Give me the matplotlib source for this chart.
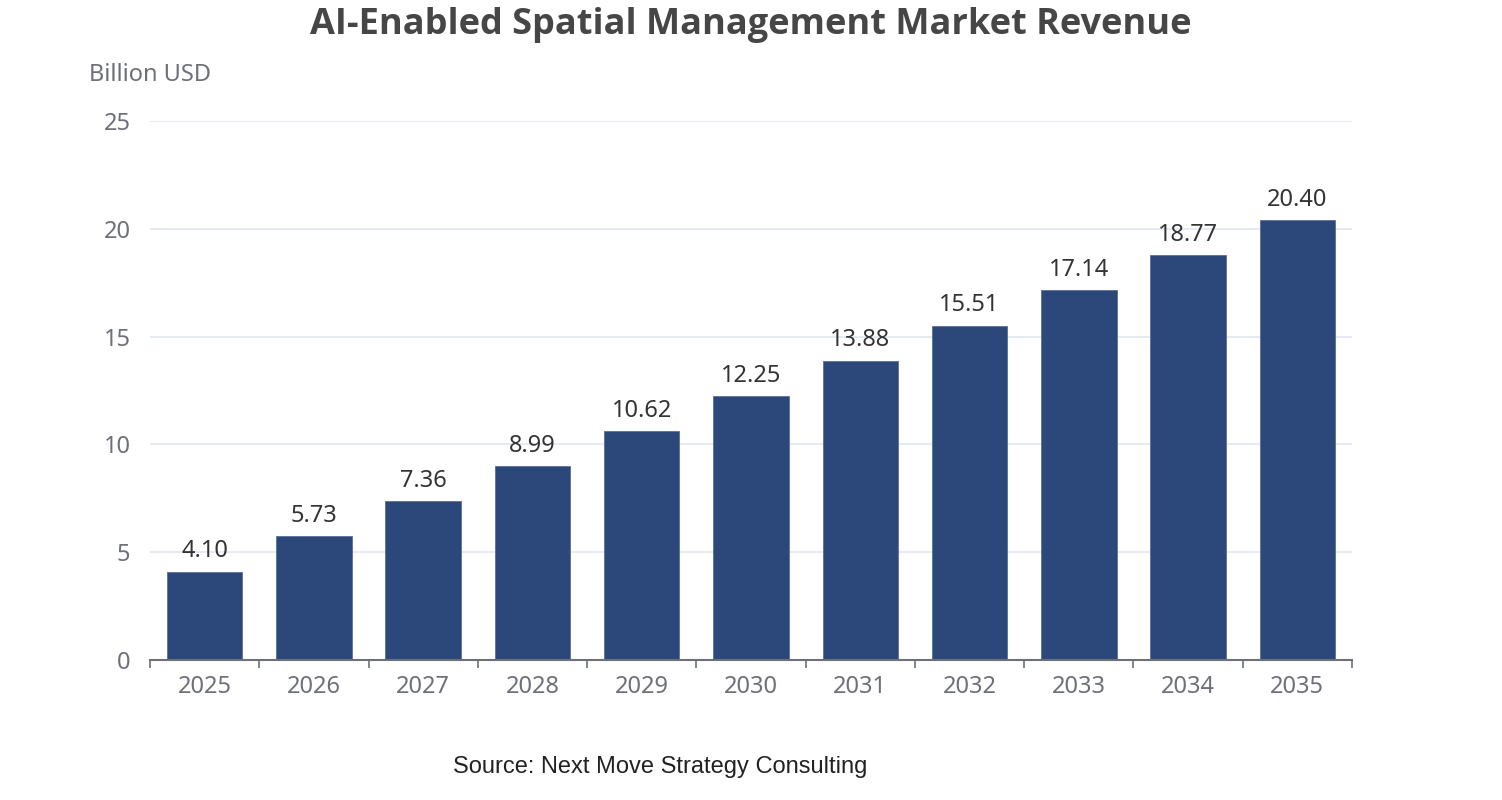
import matplotlib
matplotlib.use("Agg")
import matplotlib.pyplot as plt
import numpy as np

years = ["2025", "2026", "2027", "2028", "2029", "2030", "2031", "2032", "2033", "2034", "2035"]
revenue = [4.10, 5.73, 7.36, 8.99, 10.62, 12.25, 13.88, 15.51, 17.14, 18.77, 20.40]
y_ticks = [0, 5, 10, 15, 20, 25]

plt.rcParams['font.family'] = ['Noto Sans', 'DejaVu Sans']

W, H = 1502, 800
fig = plt.figure(figsize=(W / 100, H / 100), dpi=100)
ax = fig.add_axes([150 / W, 1 - 660 / H, (1352 - 150) / W, (660 - 121) / H])

x = np.arange(len(years))
bars = ax.bar(x, revenue, width=0.69, color='#2C4779', edgecolor='#5A6F98', linewidth=0.6, zorder=3)

for xi, v in zip(x, revenue):
    ax.annotate(f"{v:.2f}", (xi, v), xytext=(0, 6), textcoords='offset points',
                ha='center', va='bottom', fontsize=17, color='#333333')

ax.set_xlim(-0.5, len(years) - 0.5)
ax.set_ylim(0, 25)
ax.set_yticks(y_ticks)
ax.set_yticklabels([str(t) for t in y_ticks], fontsize=17, color='#6E7079')
ax.tick_params(axis='y', length=0, pad=14)
ax.yaxis.grid(True, color='#E0E6F1', linewidth=1.2, zorder=0)

ax.set_xticks(x)
ax.set_xticklabels(years, fontsize=17, color='#6E7079')
ax.tick_params(axis='x', which='major', length=0, pad=11)
ax.set_xticks(np.arange(-0.5, len(years)), minor=True)
ax.tick_params(axis='x', which='minor', length=6, width=1.2, color='#6E7079', direction='out')

for s in ['top', 'right', 'left']:
    ax.spines[s].set_visible(False)
ax.spines['bottom'].set_color('#6E7079')
ax.spines['bottom'].set_linewidth(1.5)
ax.spines['bottom'].set_zorder(4)

fig.text(751 / W, 1 - 25 / H, "AI-Enabled Spatial Management Market Revenue",
         ha='center', va='center', fontsize=26, fontweight='bold', color='#464646',
         family=['Open Sans', 'DejaVu Sans'])
fig.text(150 / W, 1 - 75 / H, "Billion USD", ha='center', va='center', fontsize=17, color='#6E7079')
fig.text(660 / W, 1 - 767 / H, "Source: Next Move Strategy Consulting", ha='center', va='center',
         fontsize=17, color='#222222', family=['Liberation Sans', 'DejaVu Sans'])

fig.savefig("out.png", dpi=100)
